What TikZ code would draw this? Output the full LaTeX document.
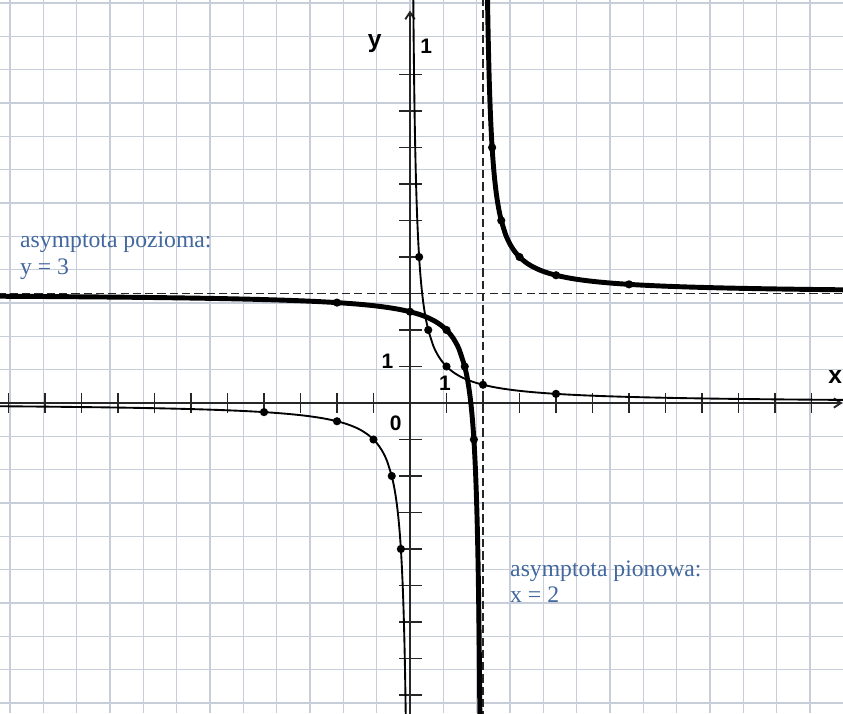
\documentclass[tikz,border=0pt]{standalone}
\usepackage{fontspec}
\setmainfont{Liberation Serif}
\newfontfamily\lsans{Liberation Sans}
\usetikzlibrary{arrows.meta}
\definecolor{gridc}{RGB}{200,205,218}
\definecolor{labc}{RGB}{66,104,158}
\tikzset{
  gridline/.style={gridc, line width=1.2pt},
  axisline/.style={black!85, line width=1.6pt},
  tickline/.style={black!85, line width=1.6pt},
  asym/.style={black!85, line width=1.7pt, dash pattern=on 7pt off 3.5pt},
  thincurve/.style={black, line width=1.6pt},
  thickcurve/.style={black, line width=4.2pt},
  dot/.style={circle, fill=black, inner sep=0pt, minimum size=7pt},
  asylab/.style={labc, anchor=base west, inner sep=0pt, font=\fontsize{20.2}{24}\selectfont},
  axlab/.style={anchor=base, inner sep=0pt, font=\lsans\bfseries\fontsize{17.9}{20}\selectfont},
  varlab/.style={inner sep=0pt, font=\lsans\bfseries\fontsize{21}{24}\selectfont}
}
\begin{document}
\begin{tikzpicture}[x=1.095cm,y=1.095cm]
\useasboundingbox (-11.2329,-8.4932) rectangle (11.8630,11.0411);
\clip (-11.2329,-8.4932) rectangle (11.8630,11.0411);
\fill[white] (-11.2329,-8.4932) rectangle (11.8630,11.0411);
% grid
\draw[gridline] (-11.2329,-8.4932) grid (11.8630,11.0411);
% asymptotes
\coordinate (hl) at (-11.3,3);
\coordinate (hr) at (11.9,3);
\coordinate (vt) at (2,11.1);
\coordinate (vb) at (2,-8.6);
\draw[asym] (hl) -- (hr);
\draw[asym] (vt) -- (vb);
% axes
\coordinate (xl) at (-11.3,0);
\coordinate (xr) at (11.85,0);
\coordinate (yb) at (0,-8.6);
\coordinate (yt) at (0,10.75);
\draw[axisline, -{Straight Barb[length=6pt,width=8pt]}] (xl) -- (xr);
\draw[axisline, -{Straight Barb[length=6pt,width=8pt]}] (yb) -- (yt);
\foreach \i in {-11,...,-1,1,2,...,11} \draw[tickline] (\i,-0.27) -- (\i,0.27);
\foreach \j in {-8,...,-1,1,2,...,9} \draw[tickline] (-0.3,\j) -- (0.32,\j);
% thin curve y = 1/x
\draw[thincurve] plot[domain=-11.3:-0.5, samples=80, smooth] (\x,{1/\x})
  -- plot[domain=-2:-8.6, samples=40, smooth] ({1/\x},\x);
\draw[thincurve] plot[domain=11.1:2, samples=40, smooth] ({1/\x},\x)
  -- plot[domain=0.5:11.9, samples=80, smooth] (\x,{1/\x});
% thick curve y = 3 + 1/(x-2)
\draw[thickcurve] plot[domain=-11.3:1.5, samples=80, smooth] (\x,{3+1/(\x-2)})
  -- plot[domain=1:-8.6, samples=40, smooth] ({2+1/(\x-3)},\x);
\draw[thickcurve] plot[domain=11.1:5, samples=40, smooth] ({2+1/(\x-3)},\x)
  -- plot[domain=2.5:11.9, samples=80, smooth] (\x,{3+1/(\x-2)});
% dots on thin curve
\node[dot] (a1) at (-4,-0.25) {};
\node[dot] (a2) at (-2,-0.5) {};
\node[dot] (a3) at (-1,-1) {};
\node[dot] (a4) at (-0.5,-2) {};
\node[dot] (a5) at (-0.25,-4) {};
\node[dot] (a6) at (0.25,4) {};
\node[dot] (a7) at (0.5,2) {};
\node[dot] (a8) at (1,1) {};
\node[dot] (a9) at (2,0.5) {};
\node[dot] (a10) at (4,0.25) {};
% dots on thick curve
\node[dot] (b1) at (-2,2.75) {};
\node[dot] (b2) at (0,2.5) {};
\node[dot] (b3) at (1,2) {};
\node[dot] (b4) at (1.5,1) {};
\node[dot] (b5) at (1.75,-1) {};
\node[dot] (b6) at (2.25,7) {};
\node[dot] (b7) at (2.5,5) {};
\node[dot] (b8) at (3,4) {};
\node[dot] (b9) at (4,3.5) {};
\node[dot] (b10) at (6,3.25) {};
% axis labels
\node[varlab, anchor=base] (ylab) at (-0.964,9.726) {y};
\node[axlab] (one1) at (0.447,9.586) {1};
\node[axlab] (one2) at (-0.616,0.951) {1};
\node[axlab] (one3) at (0.959,0.356) {1};
\node[axlab] (zero) at (-0.392,-0.740) {0};
\node[varlab, anchor=base east] (xlab) at (11.84,0.540) {x};
% asymptote labels
\node[asylab] (hlab1) at (-10.685,4.247) {asymptota pozioma:};
\node[asylab] (hlab2) at (-10.685,3.507) {y = 3};
\node[asylab] (vlab1) at (2.740,-4.740) {asymptota pionowa:};
\node[asylab] (vlab2) at (2.740,-5.479) {x = 2};
\end{tikzpicture}
\end{document}
